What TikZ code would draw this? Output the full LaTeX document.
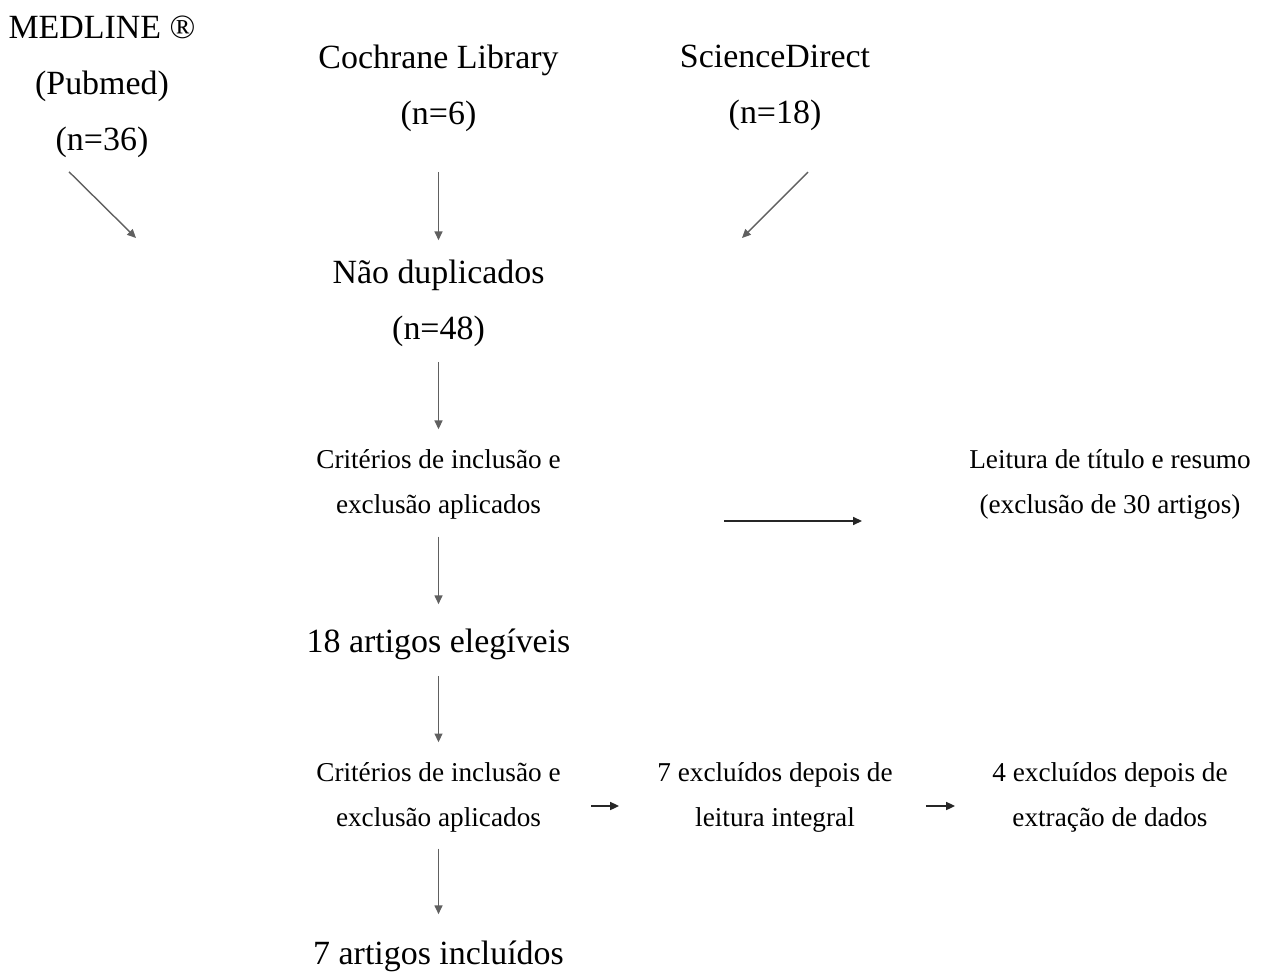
\documentclass[tikz,border=0pt]{standalone}
\usepackage{fontspec}
\setmainfont{Liberation Serif}
\usetikzlibrary{arrows.meta}

\begin{document}
\begin{tikzpicture}[>={Triangle[length=5pt,width=4.5pt]},
  big/.style={align=center,inner sep=0pt,font=\fontsize{19.3}{31.9}\selectfont},
  small/.style={align=center,inner sep=0pt,font=\fontsize{15.5}{25.6}\selectfont},
  flow/.style={->,gray!75!black,line width=.8pt},
  side/.style={->,black!85,line width=1pt}]
  \useasboundingbox (0,0) rectangle (25.24,-19.44);
  \node[big] (medline) at (2.04,-1.74) {MEDLINE ®\\(Pubmed)\\(n=36)};
  \node[big] (cochrane) at (8.77,-1.76) {Cochrane Library\\(n=6)};
  \node[big] (science) at (15.5,-1.76) {ScienceDirect\\(n=18)};
  \node[big] (naodup) at (8.77,-6.07) {Não duplicados\\(n=48)};
  \node[small] (crit1) at (8.77,-9.69) {Critérios de inclusão e\\exclusão aplicados};
  \node[small] (leitura) at (22.2,-9.69) {Leitura de título e resumo\\(exclusão de 30 artigos)};
  \node[big] (eleg) at (8.77,-12.88) {18 artigos elegíveis};
  \node[small] (crit2) at (8.77,-15.95) {Critérios de inclusão e\\exclusão aplicados};
  \node[small] (excl7) at (15.5,-15.95) {7 excluídos depois de\\leitura integral};
  \node[small] (excl4) at (22.2,-15.95) {4 excluídos depois de\\extração de dados};
  \node[big] (incl) at (8.77,-19.12) {7 artigos incluídos};
  \coordinate (mend) at (2.72,-4.76);
  \coordinate (send) at (14.84,-4.76);
  \draw[flow] ([shift={(-0.66,-0.27)}]medline.south) -- (mend);
  \draw[flow] ([shift={(0.66,-0.82)}]science.south) -- (send);
  \draw[flow,shorten <=0.8cm,shorten >=0.39cm] (cochrane.south) -- (naodup.north);
  \draw[flow,shorten <=0.29cm,shorten >=0.40cm] (naodup.south) -- (crit1.north);
  \draw[flow,shorten <=0.34cm,shorten >=0.48cm] (crit1.south) -- (eleg.north);
  \draw[flow,shorten <=0.32cm,shorten >=0.40cm] (eleg.south) -- (crit2.north);
  \draw[flow,shorten <=0.32cm,shorten >=0.52cm] (crit2.south) -- (incl.north);
  \draw[side] ([shift={(3.26,-0.73)}]crit1.east) -- ([shift={(-2.14,-0.73)}]leitura.west);
  \draw[side] ([shift={(0.6,-0.17)}]crit2.east) -- ([shift={(-0.76,-0.17)}]excl7.west);
  \draw[side] ([shift={(0.66,-0.17)}]excl7.east) -- ([shift={(-0.74,-0.17)}]excl4.west);
\end{tikzpicture}
\end{document}
